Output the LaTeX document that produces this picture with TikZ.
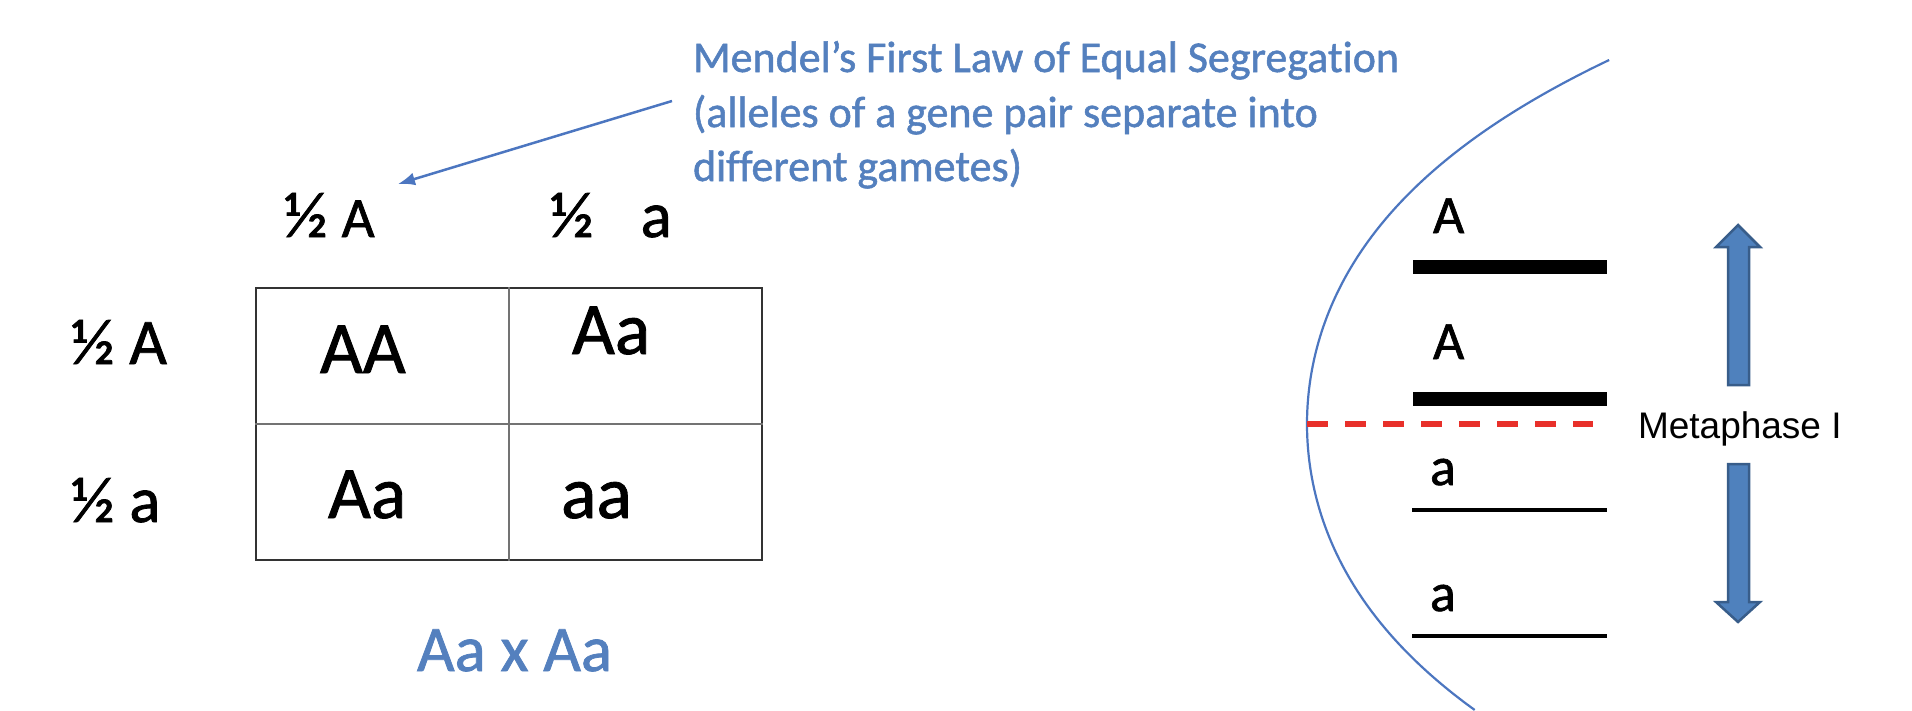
\documentclass[tikz,border=0pt]{standalone}
\usepackage{fontspec}
\setmainfont[Ligatures=NoCommon, FakeBold=1.2]{Carlito}
\newfontfamily\arialfont{Liberation Sans}
\usetikzlibrary{arrows.meta}
\definecolor{txtblue}{RGB}{84,128,190}
\definecolor{lineblue}{RGB}{76,118,192}
\definecolor{arrfill}{RGB}{79,129,189}
\definecolor{arrdraw}{RGB}{56,93,138}
\definecolor{dashred}{RGB}{232,48,42}
\newcommand{\fs}[1]{\fontsize{#1}{#1}\selectfont}
\tikzset{
  lbl/.style={inner sep=0pt, outer sep=0pt, anchor=base west, text=black},
  bluetxt/.style={inner sep=0pt, outer sep=0pt, anchor=base west, text=txtblue, font=\fs{44}},
  cell/.style={lbl, font=\fs{74}},
  hdr/.style={lbl, font=\fs{65}},
  chrom/.style={lbl, font=\fs{54}},
  thickbar/.style={line width=14pt, black},
  thinbar/.style={line width=4.5pt, black},
  blockarrow/.style={fill=arrfill, draw=arrdraw, line width=2.5pt, line join=miter},
  gridline/.style={draw=black!55, line width=2pt},
}
\begin{document}
\begin{tikzpicture}[x=1pt,y=1pt]
\useasboundingbox (0,0) rectangle (1912,-710);

% Punnett square
\node[draw=black!80, line width=2.5pt, minimum width=506pt, minimum height=272pt, inner sep=0pt] (grid) at (509,-424) {};
\draw[gridline] (grid.north) -- (grid.south);
\draw[gridline] (grid.west) -- (grid.east);

% headers
\node[lbl] (hA) at (284,-237) {\fs{65}½\hspace{14pt}\fs{57}A};
\node[lbl] (ha) at (550,-237) {\fs{65}½\hspace{47pt}a};
\node[hdr] (rA) at (71,-364) {½ A};
\node[hdr] (ra) at (71,-522) {½ a};

% cells
\node[cell] (c11) at (320,-373) {AA};
\node[cell] (c12) at (572,-354) {Aa};
\node[cell] (c21) at (328,-518) {Aa};
\node[cell] (c22) at (561,-518) {aa};

% cross
\node[lbl, text=txtblue, font=\fs{65}] (cross) at (417,-671) {Aa x Aa};

% Mendel text
\node[bluetxt] (m1) at (693,-72) {Mendel’s First Law of Equal Segregation};
\node[bluetxt] (m2) at (693,-127) {(alleles of a gene pair separate into};
\node[bluetxt] (m3) at (693,-181) {different gametes)};
\coordinate (arrS) at (672,-101);
\coordinate (arrE) at (398,-184);
\draw[lineblue, line width=2.5pt, -{Latex[length=17pt,width=13pt]}] (arrS) -- (arrE);

% cell boundary curve
\draw[lineblue, line width=2.2pt] plot[domain=-3.64:2.86, samples=90, smooth, variable=\u] ({1307+16.8*\u*\u+0.453*\u*\u*\u*\u}, {-(424+100*\u)});

% chromosomes
\node[chrom] (A1) at (1433,-233) {A};
\coordinate (b1l) at (1413,-267); \coordinate (b1r) at (1607,-267);
\draw[thickbar] (b1l) -- (b1r);
\node[chrom] (A2) at (1433,-359) {A};
\coordinate (b2l) at (1413,-398.5); \coordinate (b2r) at (1607,-398.5);
\draw[thickbar] (b2l) -- (b2r);
\node[chrom] (a1) at (1430,-485) {a};
\coordinate (b3l) at (1412,-510); \coordinate (b3r) at (1607,-510);
\draw[thinbar] (b3l) -- (b3r);
\node[chrom] (a2) at (1430,-611) {a};
\coordinate (b4l) at (1412,-636); \coordinate (b4r) at (1607,-636);
\draw[thinbar] (b4l) -- (b4r);

% metaphase plate
\coordinate (mpl) at (1307,-424); \coordinate (mpr) at (1593,-424);
\draw[dashred, line width=6pt, dash pattern=on 21pt off 17pt] (mpl) -- (mpr);
\node[lbl, font=\arialfont\fs{37}] (meta) at (1638,-438) {Metaphase I};

% block arrows
\draw[blockarrow] (1738,-225) -- (1760,-247) -- (1749,-247) -- (1749,-385) -- (1728,-385) -- (1728,-247) -- (1716,-247) -- cycle;
\draw[blockarrow] (1738,-622) -- (1760,-602) -- (1749,-602) -- (1749,-464) -- (1728,-464) -- (1728,-602) -- (1716,-602) -- cycle;
\end{tikzpicture}
\end{document}
